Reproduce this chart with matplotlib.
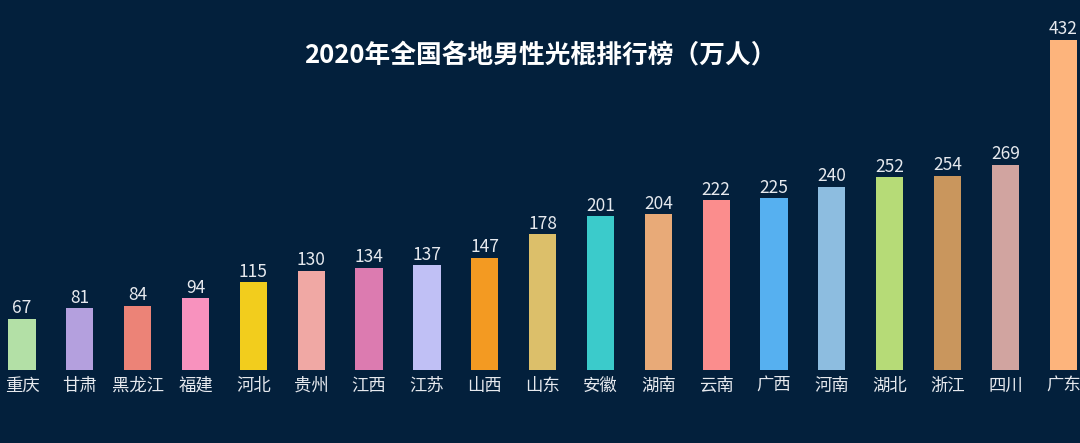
import matplotlib
matplotlib.use('Agg')
import numpy as np
import matplotlib.pyplot as plt

plt.rcParams['font.family'] = ['Noto Sans CJK SC', 'DejaVu Sans']

# Data
provinces = ['重庆', '甘肃', '黑龙江', '福建', '河北', '贵州', '江西', '江苏', '山西', '山东',
             '安徽', '湖南', '云南', '广西', '河南', '湖北', '浙江', '四川', '广东']
values = [67, 81, 84, 94, 115, 130, 134, 137, 147, 178,
          201, 204, 222, 225, 240, 252, 254, 269, 432]
colors = ['#b3e0a6', '#b4a0de', '#ec8377', '#f892be', '#f2cd1d', '#f0a8a4', '#dc7bb0',
          '#c0c0f5', '#f39a22', '#dcbf6a', '#3bcbcb', '#e8aa78', '#fb8d8d', '#56b0f0',
          '#8dbde0', '#b6db77', '#c9965d', '#d1a4a0', '#fdb47c']

bg = '#03203c'
txt = '#e6e9ee'

fig = plt.figure(figsize=(10.8, 4.43), dpi=100, facecolor=bg)
ax = fig.add_axes([0, 0, 1, 1])
ax.set_facecolor(bg)

x = np.arange(len(provinces))
ax.bar(x, values, width=0.47, color=colors)

for xi, v, name in zip(x, values, provinces):
    ax.text(xi, v + 2, str(v), ha='center', va='bottom', color=txt, fontsize=12.5)
    ax.text(xi, -9, name, ha='center', va='top', color=txt, fontsize=12.5)

ax.set_xlim(-0.38, 18.29)
ax.set_ylim(-95.5, 484.3)
ax.axis('off')

fig.text(0.5, 0.874, '2020年全国各地男性光棍排行榜（万人）', ha='center', va='center',
         color='white', fontsize=18.5, fontweight='bold')

plt.savefig('out.png', dpi=100, facecolor=bg)
